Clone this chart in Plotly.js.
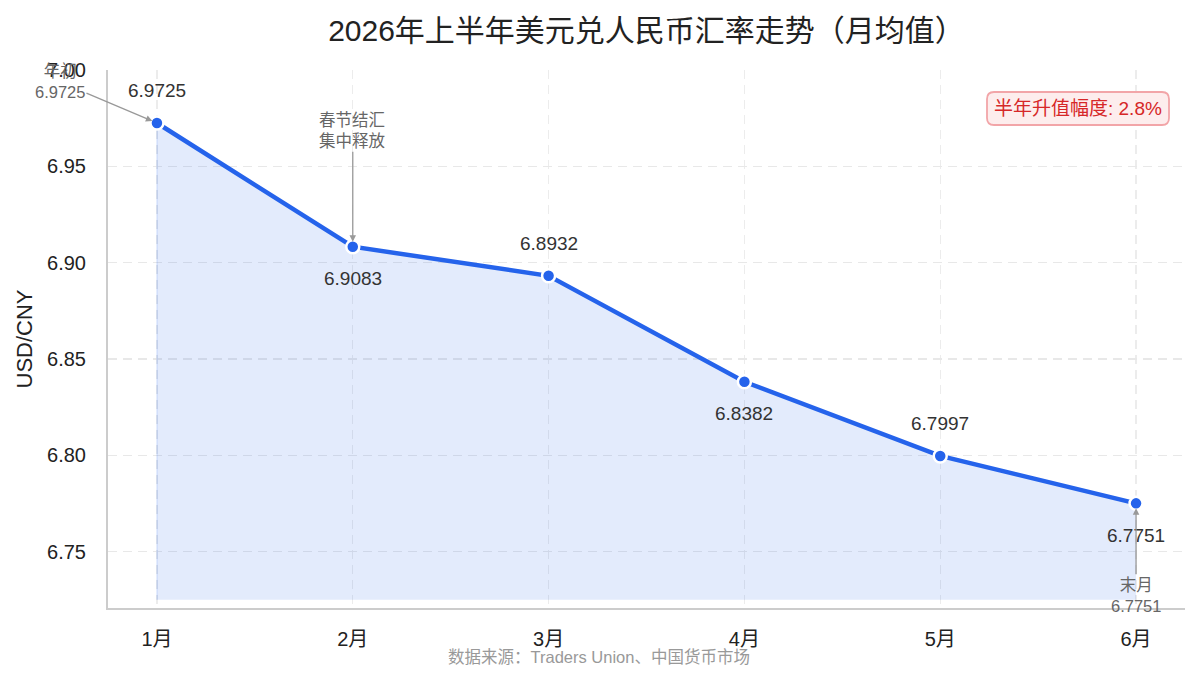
<!DOCTYPE html>
<html><head><meta charset="utf-8">
<script src="https://cdn.plot.ly/plotly-3.0.1.min.js"></script>
<style>html,body{margin:0;padding:0;background:#fff}#c{width:1200px;height:682px}</style>
</head><body><div id="c"></div>
<script>
const months = ["1月","2月","3月","4月","5月","6月"];
const rates = [6.9725, 6.9083, 6.8932, 6.8382, 6.7997, 6.7751];
const labelPos = ["above","below","above","below","above","below"];
const yTicks = [6.75, 6.80, 6.85, 6.90, 6.95, 7.00];
const fillBase = 6.7251;

const F = "Liberation Sans, Arial, Noto Sans CJK SC, sans-serif";
const xs = months.map((m,i)=>i);

const M = {l:108, r:15, t:70, b:74};
const PW = 1200 - M.l - M.r, PH = 682 - M.t - M.b;
const px = x => (x - M.l) / PW;
const py = y => (682 - M.b - y) / PH;

function roundRect(x0,y0,x1,y1,r){
  const p = [
    [x0+r,y0],[x1-r,y0],"Q",[x1,y0],[x1,y0+r],[x1,y1-r],"Q",[x1,y1],[x1-r,y1],
    [x0+r,y1],"Q",[x0,y1],[x0,y1-r],[x0,y0+r],"Q",[x0,y0],[x0+r,y0]
  ];
  let s = "M " + px(p[0][0]) + "," + py(p[0][1]);
  for (let i=1;i<p.length;i++){
    if (p[i]==="Q"){ s += " Q " + px(p[i+1][0])+","+py(p[i+1][1])+" "+px(p[i+2][0])+","+py(p[i+2][1]); i+=2; }
    else s += " L " + px(p[i][0]) + "," + py(p[i][1]);
  }
  return s + " Z";
}

const traces = [
  {x: xs, y: months.map(()=>fillBase), mode:"lines", line:{width:0}, hoverinfo:"skip", showlegend:false},
  {x: xs, y: rates, mode:"lines", fill:"tonexty", fillcolor:"rgba(37,99,235,0.13)",
   line:{width:0.8,color:"rgba(37,99,235,0.2)"}, hoverinfo:"skip", showlegend:false},
  {x: [0,0], y:[fillBase, rates[0]], mode:"lines", line:{width:1,color:"rgba(37,99,235,0.2)"}, hoverinfo:"skip", showlegend:false},
  {x: xs, y: rates, mode:"lines+markers", line:{color:"#2563eb", width:4.5},
   marker:{size:13, color:"#2563eb", line:{color:"#ffffff", width:2.5}}, showlegend:false}
];

const ann = rates.map((v,i)=>({
  x: i, y: v, xref:"x", yref:"y", text: v.toFixed(4), showarrow:false,
  yshift: labelPos[i]==="above" ? 32 : -32,
  font:{family:F, size:19, color:"#333"}
}));

const arrowStyle = {showarrow:true, arrowhead:2, arrowsize:1, arrowwidth:1.3, arrowcolor:"#999", standoff:5,
  font:{family:F, size:16.5, color:"#666"}, axref:"pixel", ayref:"pixel"};
ann.push(Object.assign({}, arrowStyle, {x:0, y:rates[0], xref:"x", yref:"y", text:"年初<br>6.9725", ax:-97, ay:-41}));
ann.push(Object.assign({}, arrowStyle, {x:1, y:rates[1], xref:"x", yref:"y", text:"春节结汇<br>集中释放", ax:0, ay:-116}));
ann.push(Object.assign({}, arrowStyle, {x:5, y:rates[5], xref:"x", yref:"y", text:"末月<br>6.7751", ax:0, ay:92}));

ann.push({xref:"paper", yref:"paper", x:px(1078), y:py(108.5), xanchor:"center", yanchor:"middle", showarrow:false,
  text:"半年升值幅度: 2.8%", font:{family:F, size:19, color:"#d62728"}});

ann.push({xref:"paper", yref:"paper", x:px(599), y:py(657), xanchor:"center", yanchor:"middle", showarrow:false,
  text:"数据来源：Traders Union、中国货币市场", font:{family:F, size:16.5, color:"#999"}});

const layout = {
  width:1200, height:682,
  margin:M,
  paper_bgcolor:"#fff", plot_bgcolor:"#fff",
  title:{text:"2026年上半年美元兑人民币汇率走势（月均值）", font:{family:F, size:30, color:"#222"}, x:0.5, xref:"paper", xanchor:"center", y:1-30/682, yanchor:"middle", yref:"container"},
  xaxis:{range:[-0.25,5.25], tickvals:xs, ticktext:months, showgrid:true, gridcolor:"#ececec", griddash:"9px,6px", gridwidth:1.3,
    zeroline:false, showline:true, linecolor:"#cccccc", linewidth:2, ticks:"", tickfont:{family:F, size:20, color:"#222"}, ticklabelstandoff:12},
  yaxis:{range:[6.7208,7.0], tickvals:yTicks, ticktext:yTicks.map(v=>v.toFixed(2)), showgrid:true, gridcolor:"#e8e8e8", griddash:"9px,6px", gridwidth:1.3,
    zeroline:false, showline:true, linecolor:"#cccccc", linewidth:2, ticks:"", tickfont:{family:F, size:20, color:"#222"}, ticklabelstandoff:16,
    title:{text:"USD/CNY", font:{family:F, size:22, color:"#222"}, standoff:8}},
  shapes:[{type:"path", xref:"paper", yref:"paper", path: roundRect(987,92,1169,125,7),
    fillcolor:"rgba(253,236,236,0.95)", line:{color:"#f2a5a8", width:1.8}, layer:"above"}],
  annotations: ann
};

Plotly.newPlot("c", traces, layout, {displayModeBar:false, staticPlot:true});
</script></body></html>
